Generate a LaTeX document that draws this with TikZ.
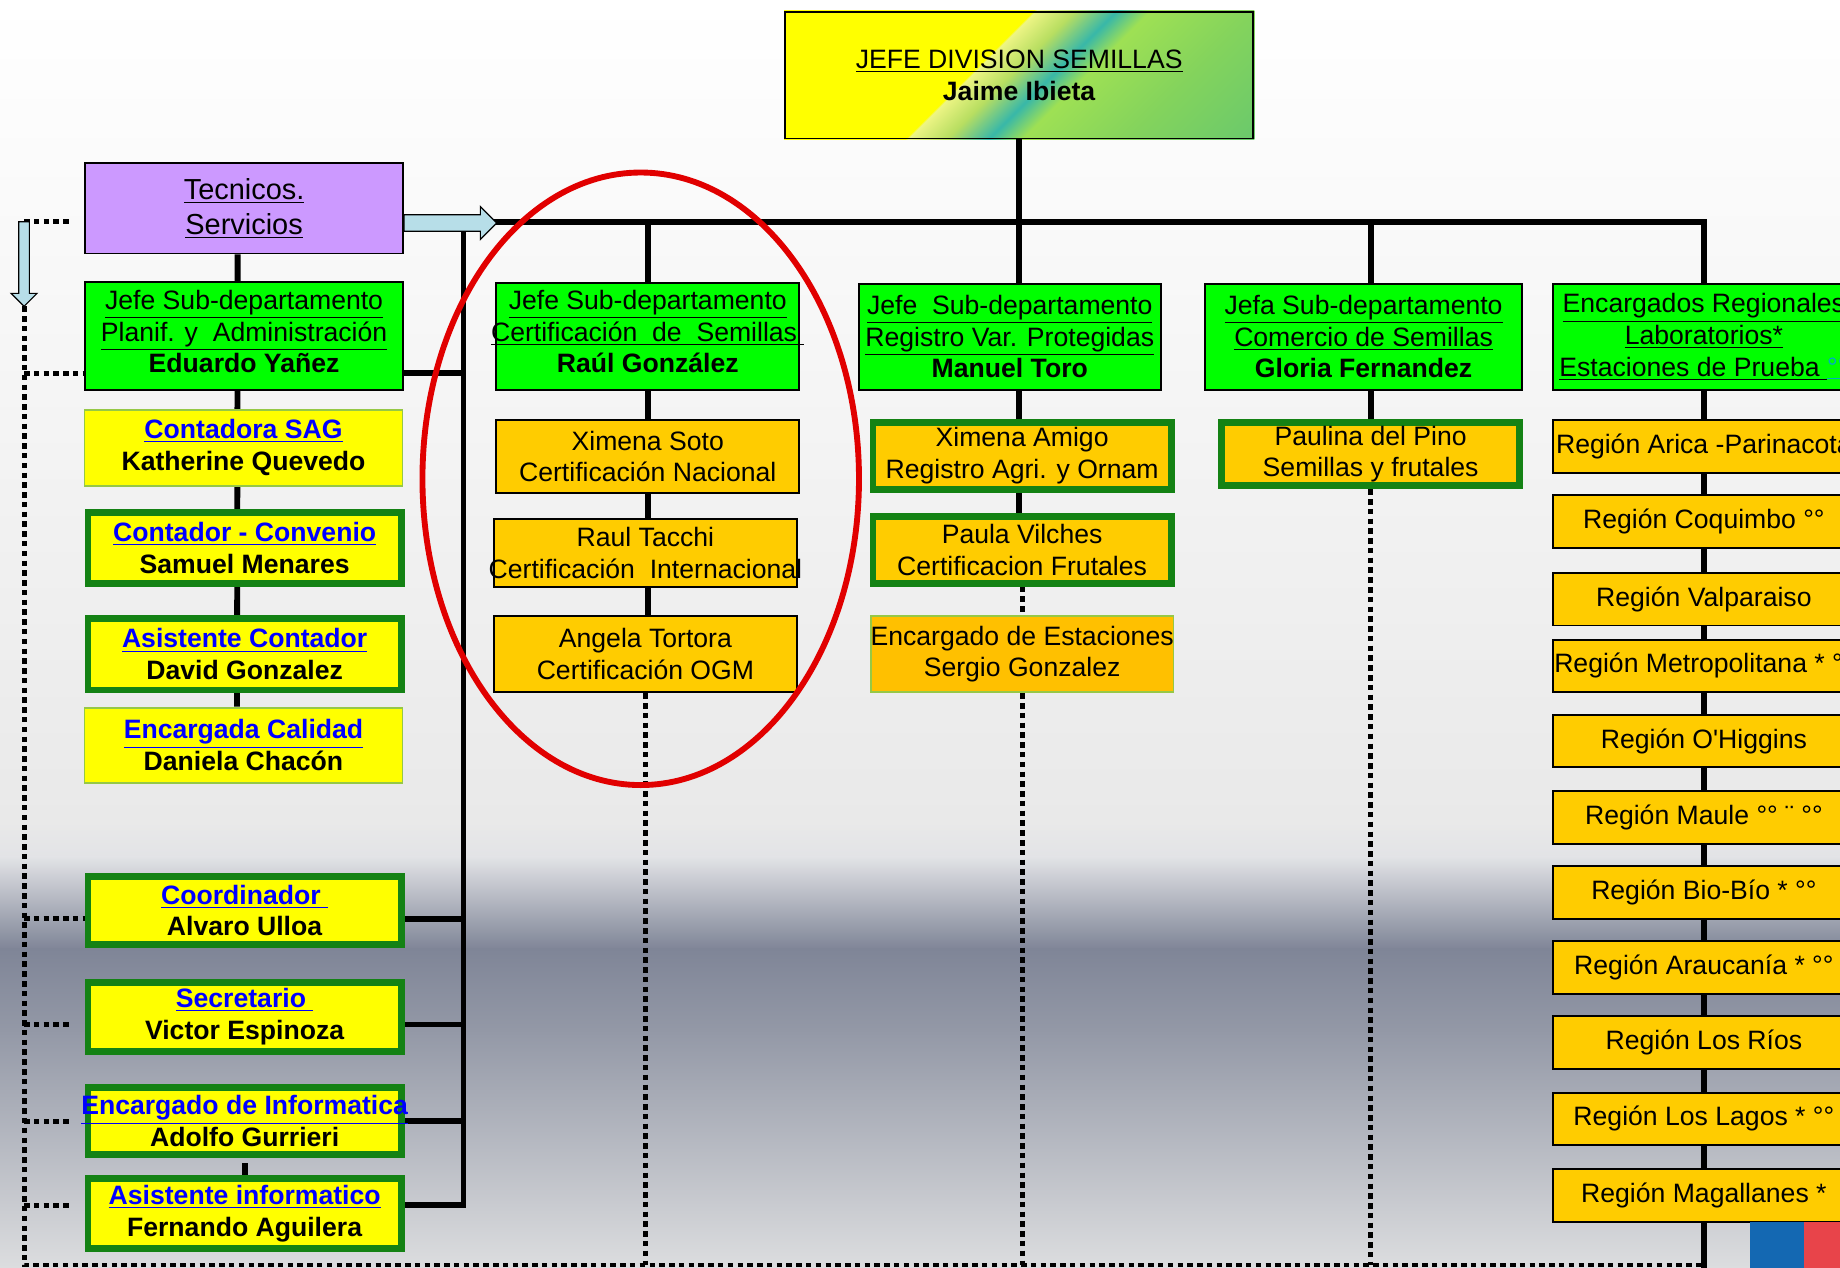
\documentclass[tikz,border=0pt]{standalone}
\usepackage{fontspec}
\setmainfont{Liberation Sans}
\usetikzlibrary{positioning, calc}
\definecolor{tecviolet}{RGB}{204,153,255}
\definecolor{headgreen}{RGB}{0,255,0}
\definecolor{staffyellow}{RGB}{255,255,0}
\definecolor{unitorange}{RGB}{255,204,0}
\definecolor{stationorange}{RGB}{255,192,0}
\definecolor{rimgreen}{RGB}{20,130,20}
\definecolor{lightrim}{RGB}{150,200,70}
\definecolor{linkblue}{RGB}{0,0,255}
\definecolor{arrowblue}{RGB}{183,222,232}
\definecolor{ringred}{RGB}{225,0,0}
\definecolor{markteal}{RGB}{0,170,200}
\definecolor{flagblue}{RGB}{20,104,178}
\definecolor{flagred}{RGB}{232,68,74}
\definecolor{bgA}{RGB}{246,246,246}
\definecolor{bgB}{RGB}{233,233,233}
\definecolor{bgC}{RGB}{226,227,230}
\definecolor{bgD}{RGB}{127,133,151}
\definecolor{bgE}{RGB}{148,153,167}
\definecolor{bgF}{RGB}{220,221,223}
\pgfdeclarehorizontalshading{divshade}{100bp}{rgb(0bp)=(1,1,0); rgb(46.4bp)=(1,1,0); rgb(46.6bp)=(0.93,0.96,0.52); rgb(49.4bp)=(0.72,0.87,0.38); rgb(52.4bp)=(0.22,0.72,0.66); rgb(54.8bp)=(0.62,0.88,0.33); rgb(62bp)=(0.52,0.83,0.36); rgb(71bp)=(0.42,0.79,0.42); rgb(100bp)=(0.42,0.79,0.42)}
\pgfdeclarelayer{backdrop}
\pgfdeclarelayer{background}
\pgfsetlayers{backdrop,background,main}
\newcommand{\orgfont}{\fontsize{13.6}{16.2}\selectfont}
\newcommand{\lnk}[1]{\textcolor{linkblue}{\underline{\textbf{#1}}}}
\newcommand{\spill}[1]{\makebox[0pt]{#1}}
\newcommand{\lift}{\rule[-4.8pt]{0pt}{0pt}}

\begin{document}
\begin{tikzpicture}[x=0.6pt, y=-0.6pt,
    sz/.style 2 args={minimum width=#1*0.6pt, minimum height=#2*0.6pt},
    org/.style={draw, line width=1pt, align=center, inner sep=0pt, font=\orgfont},
    headbox/.style={org, fill=headgreen},
    staffbox/.style={org, fill=staffyellow, draw=lightrim},
    staffrim/.style={org, fill=staffyellow, draw=rimgreen, line width=3.5pt},
    unitbox/.style={org, fill=unitorange},
    unitrim/.style={org, fill=unitorange, draw=rimgreen, line width=3.5pt},
    regionbox/.style={org, fill=unitorange, sz={258}{45}},
    bar/.style={line width=3pt},
    dots/.style={line width=2.5pt, dash pattern=on 2.8pt off 2.2pt},
    blockarrow/.style={fill=arrowblue, draw=black, line width=0.6pt},
    ring/.style={draw=ringred, line width=3pt}]
  \useasboundingbox (0,0) rectangle (1568,1080);

  \begin{pgfonlayer}{backdrop}
    \shade[top color=white, bottom color=bgA] (0,0) rectangle (1568,301);
    \shade[top color=bgA, bottom color=bgB] (0,300) rectangle (1568,701);
    \shade[top color=bgB, bottom color=bgC] (0,700) rectangle (1568,731);
    \shade[top color=bgC, bottom color=bgD] (0,730) rectangle (1568,809);
    \shade[top color=bgD, bottom color=bgE] (0,808) rectangle (1568,881);
    \shade[top color=bgE, bottom color=bgF] (0,880) rectangle (1568,1080);
  \end{pgfonlayer}

  \node[org, sz={399}{108}] (jefe) at (868.5,64)
    {\underline{JEFE DIVISION SEMILLAS}\\\textbf{Jaime Ibieta}};
  \node[org, fill=tecviolet, sz={271}{77}, font=\fontsize{14.8}{18}\selectfont] (tecnicos) at (208,177.5)
    {\underline{Tecnicos.}\\\underline{Servicios}};

  \node[headbox, sz={271}{92}] (planif) at (208,286.5)
    {\underline{Jefe Sub-departamento}\\\underline{Planif. y~ Administración}\\\textbf{Eduardo Yañez}\lift};
  \node[staffbox, sz={271}{65}] (contadora) at (207.5,381.5) {\lnk{Contadora SAG}\\\textbf{Katherine Quevedo}};
  \node[staffrim, sz={267}{60}] (convenio) at (208.5,467) {\lnk{Contador - Convenio}\\\textbf{Samuel Menares}};
  \node[staffrim, sz={267}{61}] (asistcont) at (208.5,557.5) {\lnk{Asistente Contador}\\\textbf{David Gonzalez}};
  \node[staffbox, sz={271}{64}] (calidad) at (207.5,635) {\lnk{Encargada Calidad}\\\textbf{Daniela Chacón}};
  \node[staffrim, sz={267}{58}] (coord) at (208.5,776) {\lnk{Coordinador }\\\textbf{Alvaro Ulloa}};
  \node[staffrim, sz={267}{59}] (secretario) at (208.5,866.5) {\lnk{Secretario }\\\textbf{Victor Espinoza}};
  \node[staffrim, sz={267}{57}] (informatica) at (208.5,955.5) {\spill{\lnk{Encargado de Informatica}}\\\textbf{Adolfo Gurrieri}};
  \node[staffrim, sz={267}{60}] (asistinf) at (208.5,1034) {\lnk{Asistente informatico}\\\textbf{Fernando Aguilera}};

  \node[headbox, sz={258}{91}] (certif) at (552,286.5)
    {\underline{Jefe Sub-departamento}\\\spill{\underline{Certificación~ de~ Semillas~}}\\\textbf{Raúl González}\lift};
  \node[unitbox, sz={258}{62}] (soto) at (552,389) {Ximena Soto\\Certificación Nacional};
  \node[unitbox, sz={258}{58}] (tacchi) at (550,471) {Raul Tacchi\\\spill{Certificación~ Internacional}};
  \node[unitbox, sz={258}{65}] (tortora) at (550,557.5) {Angela Tortora\\Certificación OGM};

  \node[headbox, sz={257}{90}] (registro) at (860.5,287)
    {\underline{Jefe~ Sub-departamento}\\\underline{Registro Var. Protegidas}\\\textbf{Manuel Toro}};
  \node[unitrim, sz={254}{57}] (amigo) at (871,388.5) {Ximena Amigo\\Registro Agri. y Ornam};
  \node[unitrim, sz={254}{57}] (vilches) at (871,468.5) {Paula Vilches\\Certificacion Frutales};
  \node[org, fill=stationorange, draw=lightrim, sz={258}{65}] (estaciones) at (871,557.5)
    {\spill{Encargado de Estaciones}\\Sergio Gonzalez};

  \node[headbox, sz={270}{90}] (comercio) at (1162,287)
    {\underline{Jefa Sub-departamento}\\\underline{Comercio de Semillas}\\\textbf{Gloria Fernandez}};
  \node[unitrim, sz={254}{54}] (pino) at (1168,387) {Paulina del Pino\\Semillas y frutales};

  \node[headbox, sz={258}{90}] (regional) at (1452,287)
    {\underline{Encargados Regionales}\\\underline{Laboratorios*}\\\underline{Estaciones de Prueba }\textcolor{markteal}{\underline{°°}}};
  \foreach \yy/\txt [count=\i] in {380.5/Región Arica -Parinacota, 444.5/Región Coquimbo °°,
      510.5/Región Valparaiso, 567.5/Región Metropolitana * °°, 631.5/Región O\textquotesingle Higgins,
      696.5/Región Maule °° ¨ °°, 760.5/Región Bio-Bío * °°, 824.5/Región Araucanía * °°,
      888.5/Región Los Ríos, 953.5/Región Los Lagos * °°, 1018.5/Región Magallanes *}
    \node[regionbox] (r\i) at (1452,\yy) {\txt};

  \coordinate (tip) at (421,189);
  \coordinate (bustop) at (395,197);
  \coordinate (dturn) at (20.5,189);
  \coordinate (dtop) at (20.5,261);
  \coordinate (dbot) at (20.5,1078);
  \coordinate (edge) at (0,1082);
  \coordinate (s1) at ([yshift=-18.9pt]planif.west);
  \coordinate (s2) at ([yshift=-4.2pt]coord.west);
  \coordinate (s3) at ([yshift=-3.9pt]secretario.west);
  \coordinate (s4) at (informatica.west);
  \coordinate (s5) at ([yshift=4.2pt]asistinf.west);

  \begin{pgfonlayer}{background}
    \begin{scope}
      \clip (jefe.south west) rectangle (jefe.north east);
      \begin{scope}[transform canvas={rotate around={-45:(jefe.center)}}]
        \shade[shading=divshade] ([shift={(-210,-210)}]jefe.center) rectangle ([shift={(210,210)}]jefe.center);
      \end{scope}
    \end{scope}

    \draw[bar] (tip) -| (regional.north);
    \draw[bar] (regional.south) -- (regional.south |- edge);
    \draw[bar] (jefe.south) -- (jefe.south |- registro.north);
    \draw[bar] (jefe.south |- registro.south) -- (jefe.south |- vilches.north);
    \draw[bar] (certif.north |- tip) -- (certif.north |- tortora.north);
    \draw[bar] (pino.north |- tip) -- (pino.north);
    \draw[bar] ([xshift=-3.3pt]tecnicos.south) -- ([xshift=-3.3pt]calidad.north);
    \draw[bar] ([yshift=6pt]asistinf.north) -- (asistinf.north);
    \draw[bar] ([yshift=-18.9pt]planif.east) -| (bustop);
    \draw[bar] ([yshift=-4.2pt]coord.east) -| (bustop);
    \draw[bar] ([yshift=-3.9pt]secretario.east) -| (bustop);
    \draw[bar] (informatica.east) -| (bustop);
    \draw[bar] ([yshift=4.2pt]asistinf.east) -| (bustop);

    \draw[dots] (dtop) |- (r11.south |- dbot);
    \draw[dots] (dturn) -- ([xshift=-7pt]tecnicos.west |- dturn);
    \draw[dots] (dtop |- s1) -- (s1);
    \draw[dots] (dtop |- s2) -- (s2);
    \draw[dots] (dtop |- s3) -- ([xshift=-7pt]s3);
    \draw[dots] (dtop |- s4) -- ([xshift=-7pt]s4);
    \draw[dots] (dtop |- s5) -- ([xshift=-7pt]s5);
    \draw[dots] (tortora.south) -- (tortora.south |- dbot);
    \draw[dots] (vilches.south) -- (estaciones.north);
    \draw[dots] (estaciones.south) -- (estaciones.south |- dbot);
    \draw[dots] (pino.south) -- (pino.south |- dbot);
  \end{pgfonlayer}

  \filldraw[blockarrow] ([yshift=-3.3pt]tecnicos.east) -- ++(65,0) -- ++(0,-7) -- ++(14,14) -- ++(-14,14) -- ++(0,-7) -- ++(-65,0) -- cycle;
  \filldraw[blockarrow] ([xshift=-2.7pt]dturn) -- ++(9,0) -- ++(0,61) -- ++(6.5,0) -- ++(-11,11) -- ++(-11,-11) -- ++(6.5,0) -- cycle;

  \draw[ring] (546,408) ellipse [x radius=186, y radius=261];
  \fill[flagblue] (1491,1041) rectangle (1537,1082);
  \fill[flagred] (1537,1041) rectangle (1570,1082);
\end{tikzpicture}
\end{document}
